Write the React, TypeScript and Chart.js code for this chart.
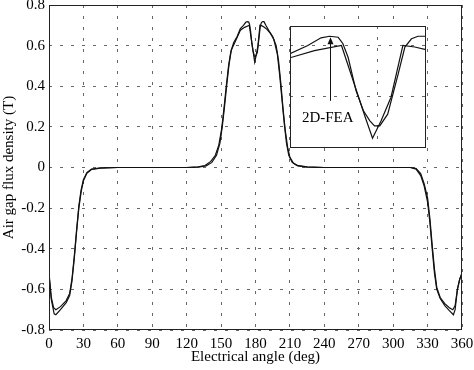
import React, { useEffect, useRef } from "react";
import { Chart, registerables } from "chart.js";

Chart.register(...registerables);

// 2D-FEA result (rounded peaks)
const feaAngle = [
  0, 2, 4, 6, 10, 15, 18, 20, 22, 24, 26, 28, 30, 33, 37, 45, 60, 120, 130, 136, 141, 145, 148,
  150.5, 152.5, 154.5, 156.5, 158.5, 161, 164, 166.8, 169.5, 171.5, 172.8, 174.1, 174.8, 175.6,
  176.8, 177.9, 178.9, 179.6, 180.4, 181.6, 183.2, 184.2, 185.2, 186.2, 187.4, 189, 192, 195, 198,
  200, 202, 204, 206, 208, 210, 213, 217, 225, 240, 315, 320, 324, 327, 330, 332, 334, 336, 338,
  341, 345, 349, 352, 354, 356, 358, 360,
];
const feaFlux = [
  -0.52, -0.64, -0.69, -0.7, -0.685, -0.655, -0.62, -0.55, -0.44, -0.31, -0.19, -0.11, -0.06,
  -0.025, -0.008, -0.002, 0, 0, 0.003, 0.01, 0.03, 0.06, 0.11, 0.19, 0.29, 0.4, 0.5, 0.57, 0.615,
  0.645, 0.684, 0.7, 0.715, 0.718, 0.716, 0.704, 0.677, 0.612, 0.573, 0.553, 0.543, 0.543, 0.566,
  0.645, 0.697, 0.713, 0.718, 0.718, 0.7, 0.67, 0.645, 0.6, 0.53, 0.42, 0.29, 0.18, 0.1, 0.05,
  0.022, 0.008, 0.002, 0, 0, -0.005, -0.03, -0.08, -0.15, -0.25, -0.38, -0.5, -0.59, -0.64, -0.67,
  -0.69, -0.7, -0.68, -0.6, -0.55, -0.52,
];

// Analytical result (sharp dip)
const anaAngle = [
  0, 2, 4.5, 6, 10, 15, 18, 20, 22, 24, 26, 28, 30, 33, 37, 45, 60, 120, 130, 137, 142, 146, 149,
  151, 153, 155, 157, 159, 162, 166.8, 170.5, 174.6, 177.2, 178.2, 179.3, 180.6, 182.1, 183.9,
  185.7, 187.4, 190, 193, 196, 199, 201, 203, 205, 207, 209, 212, 216, 225, 240, 315, 320, 324,
  327, 330, 332, 334, 336, 338, 341, 345, 349, 352.5, 354, 356, 358, 360,
];
const anaFlux = [
  -0.53, -0.65, -0.72, -0.725, -0.7, -0.665, -0.63, -0.56, -0.45, -0.32, -0.2, -0.12, -0.065,
  -0.028, -0.01, -0.003, 0, 0, 0.002, 0.008, 0.025, 0.06, 0.12, 0.2, 0.3, 0.41, 0.51, 0.58, 0.615,
  0.676, 0.69, 0.7, 0.599, 0.56, 0.519, 0.553, 0.599, 0.7, 0.697, 0.692, 0.68, 0.66, 0.63, 0.56,
  0.46, 0.34, 0.22, 0.12, 0.06, 0.025, 0.01, 0.003, 0, 0, -0.008, -0.04, -0.09, -0.17, -0.27, -0.4,
  -0.52, -0.6, -0.645, -0.68, -0.705, -0.725, -0.7, -0.6, -0.55, -0.52,
];

const xTicks = [0, 30, 60, 90, 120, 150, 180, 210, 240, 270, 300, 330, 360];
const yTicks = [-0.8, -0.6, -0.4, -0.2, 0, 0.2, 0.4, 0.6, 0.8];

const insetXRange = [166.8, 187.4];
const insetYRange = [0.5, 0.738];
const insetXTicks = [180];
const insetYTicks = [0.5, 0.6, 0.7];

const arrowX = 172.8;
const arrowTipY = 0.716;
const arrowTailY = 0.592;
const labelText = "2D-FEA";
const labelX = 168.6;
const labelY = 0.551;

const xTitle = "Electrical angle (deg)";
const yTitle = "Air gap flux density (T)";

const FONT = "'Liberation Serif', 'Times New Roman', serif";
const LINE = "#111";
const GRID = "#666";

const toPts = (xs: number[], ys: number[]) => xs.map((x, i) => ({ x, y: ys[i] }));

const framePlugin = {
  id: "frame",
  beforeDraw(chart: any) {
    const { ctx, chartArea: a } = chart;
    ctx.save();
    ctx.fillStyle = "#fff";
    ctx.fillRect(a.left, a.top, a.right - a.left, a.bottom - a.top);
    ctx.restore();
  },
  afterDraw(chart: any) {
    const { ctx, chartArea: a } = chart;
    ctx.save();
    ctx.strokeStyle = "#222";
    ctx.lineWidth = 1;
    ctx.setLineDash([]);
    ctx.strokeRect(
      Math.round(a.left) + 0.5,
      Math.round(a.top) + 0.5,
      Math.round(a.right - a.left) - 1,
      Math.round(a.bottom - a.top) - 1
    );
    ctx.restore();
  },
};

const arrowPlugin = {
  id: "arrowLabel",
  afterDatasetsDraw(chart: any) {
    const { ctx, scales } = chart;
    const x = Math.round(scales.x.getPixelForValue(arrowX)) + 0.5;
    const yTip = scales.y.getPixelForValue(arrowTipY);
    const yTail = scales.y.getPixelForValue(arrowTailY);
    ctx.save();
    ctx.strokeStyle = LINE;
    ctx.fillStyle = LINE;
    ctx.lineWidth = 1;
    ctx.beginPath();
    ctx.moveTo(x, yTail);
    ctx.lineTo(x, yTip + 6);
    ctx.stroke();
    ctx.beginPath();
    ctx.moveTo(x, yTip);
    ctx.lineTo(x - 3, yTip + 7);
    ctx.lineTo(x + 3, yTip + 7);
    ctx.closePath();
    ctx.fill();
    ctx.font = `15px ${FONT}`;
    ctx.textBaseline = "alphabetic";
    ctx.textAlign = "left";
    ctx.fillStyle = "#000";
    ctx.fillText(labelText, scales.x.getPixelForValue(labelX), scales.y.getPixelForValue(labelY));
    ctx.restore();
  },
};

const lineDatasets = () => [
  {
    label: "2D-FEA",
    data: toPts(feaAngle, feaFlux),
    borderColor: LINE,
    borderWidth: 1.2,
    pointRadius: 0,
    tension: 0,
    fill: false,
  },
  {
    label: "Analytical",
    data: toPts(anaAngle, anaFlux),
    borderColor: LINE,
    borderWidth: 1.2,
    pointRadius: 0,
    tension: 0,
    fill: false,
  },
];

export default function App() {
  const mainRef = useRef<HTMLCanvasElement>(null);
  const insetRef = useRef<HTMLCanvasElement>(null);

  useEffect(() => {
    const font = { family: FONT, size: 15 };
    const main = new Chart(mainRef.current!, {
      type: "line",
      data: { datasets: lineDatasets() as any },
      plugins: [framePlugin],
      options: {
        animation: false,
        responsive: false,
        events: [],
        layout: { padding: { left: 0, top: 5, right: 12, bottom: 0 } },
        plugins: { legend: { display: false }, tooltip: { enabled: false } },
        scales: {
          x: {
            type: "linear",
            min: 0,
            max: 360,
            afterBuildTicks: (s: any) => {
              s.ticks = xTicks.map((v) => ({ value: v }));
            },
            afterFit: (s: any) => {
              s.height = 40;
              s.paddingLeft = 0;
              s.paddingRight = 0;
            },
            ticks: {
              font,
              color: "#000",
              padding: 5,
              maxRotation: 0,
              autoSkip: false,
              callback: (v: any) => String(v),
            },
            grid: { color: GRID, lineWidth: 1, drawTicks: false },
            border: { display: false, dash: [3, 8] },
            title: { display: true, text: xTitle, font, color: "#000", padding: { top: 0, bottom: 4 } },
          },
          y: {
            type: "linear",
            min: -0.8,
            max: 0.8,
            afterBuildTicks: (s: any) => {
              s.ticks = yTicks.map((v) => ({ value: v }));
            },
            afterFit: (s: any) => {
              s.width = 49;
              s.paddingTop = 0;
              s.paddingBottom = 0;
            },
            ticks: {
              font,
              color: "#000",
              padding: 4,
              autoSkip: false,
              callback: (v: any) => String(Math.round(Number(v) * 10) / 10),
            },
            grid: { color: GRID, lineWidth: 1, drawTicks: false },
            border: { display: false, dash: [3, 8] },
            title: { display: true, text: yTitle, font, color: "#000", padding: { top: 0, bottom: 0 } },
          },
        },
      } as any,
    });

    const inset = new Chart(insetRef.current!, {
      type: "line",
      data: { datasets: lineDatasets() as any },
      plugins: [framePlugin, arrowPlugin],
      options: {
        animation: false,
        responsive: false,
        events: [],
        layout: { padding: 0 },
        plugins: { legend: { display: false }, tooltip: { enabled: false } },
        scales: {
          x: {
            type: "linear",
            min: insetXRange[0],
            max: insetXRange[1],
            afterBuildTicks: (s: any) => {
              s.ticks = insetXTicks.map((v) => ({ value: v }));
            },
            afterFit: (s: any) => {
              s.height = 0;
              s.paddingLeft = 0;
              s.paddingRight = 0;
            },
            ticks: { display: false },
            grid: { color: GRID, lineWidth: 1, drawTicks: false },
            border: { display: false, dash: [3, 8] },
          },
          y: {
            type: "linear",
            min: insetYRange[0],
            max: insetYRange[1],
            afterBuildTicks: (s: any) => {
              s.ticks = insetYTicks.map((v) => ({ value: v }));
            },
            afterFit: (s: any) => {
              s.width = 0;
              s.paddingTop = 0;
              s.paddingBottom = 0;
            },
            ticks: { display: false },
            grid: { color: GRID, lineWidth: 1, drawTicks: false },
            border: { display: false, dash: [3, 8] },
          },
        },
      } as any,
    });

    return () => {
      main.destroy();
      inset.destroy();
    };
  }, []);

  return (
    <div style={{ position: "absolute", left: 0, top: 0, width: 474, height: 370, background: "#fff" }}>
      <canvas ref={mainRef} width={474} height={370} style={{ position: "absolute", left: 0, top: 0 }} />
      <canvas
        ref={insetRef}
        width={136}
        height={122}
        style={{ position: "absolute", left: 290, top: 26 }}
      />
    </div>
  );
}
